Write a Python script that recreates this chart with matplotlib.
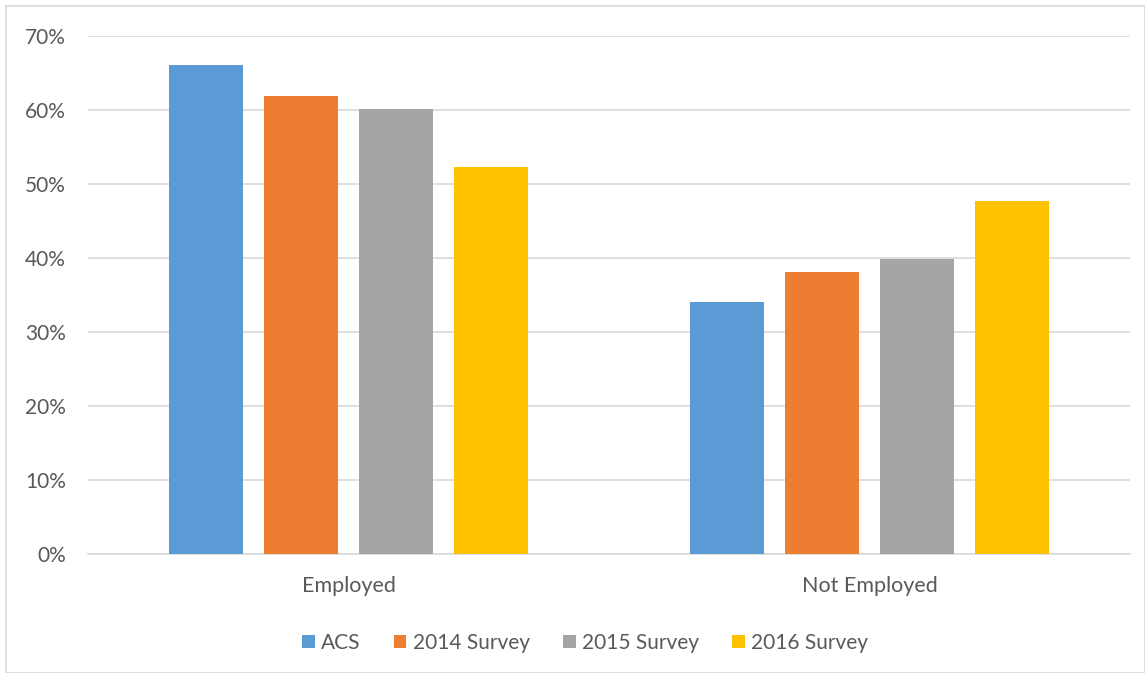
import numpy as np
import matplotlib
matplotlib.use('Agg')
import matplotlib.pyplot as plt
from matplotlib.ticker import PercentFormatter
from matplotlib.patches import Rectangle

plt.rcParams['font.family'] = ['Lato', 'DejaVu Sans']

categories = ['Employed', 'Not Employed']
series = ['ACS', '2014 Survey', '2015 Survey', '2016 Survey']
acs = [66.0, 34.0]
s2014 = [61.9, 38.1]
s2015 = [60.1, 39.9]
s2016 = [52.3, 47.7]
colors = ['#5B9BD5', '#ED7D31', '#A5A5A5', '#FFC000']

fig = plt.figure(figsize=(11.45, 6.73), dpi=100)
ax = fig.add_axes([0.0769, 0.177, 0.910, 0.7697])

x = np.arange(len(categories))
width = 0.142
step = 0.182
for i, (name, vals) in enumerate(zip(series, [acs, s2014, s2015, s2016])):
    ax.bar(x + (i - 1.5) * step, vals, width, color=colors[i], label=name, zorder=3)

ax.set_xlim(-0.5, 1.5)
ax.set_ylim(0, 70)
ax.set_yticks(range(0, 71, 10))
ax.yaxis.set_major_formatter(PercentFormatter(decimals=0))
ax.set_xticks(x)
ax.set_xticklabels(categories)
ax.grid(axis='y', color='#D9D9D9', linewidth=1.2, zorder=0)
for s in ax.spines.values():
    s.set_visible(False)
ax.spines['bottom'].set_visible(True)
ax.spines['bottom'].set_color('#D9D9D9')
ax.spines['bottom'].set_linewidth(1.2)
ax.tick_params(axis='both', length=0, colors='#595959')
ax.tick_params(axis='y', labelsize=15, pad=16)
ax.tick_params(axis='x', labelsize=15.5, pad=16)

fig.legend(loc='upper center', bbox_to_anchor=(0.511, 0.088 + 0.0), ncol=4, frameon=False,
           fontsize=15, labelcolor='#595959', handlelength=0.6, handleheight=0.6,
           handletextpad=0.3, columnspacing=1.6,
           handles=ax.get_legend_handles_labels()[0], labels=series)

fig.patches.append(Rectangle((6 / 1145, 0), 1 - 6 / 1145, 1 - 6 / 673,
                             transform=fig.transFigure, fill=False,
                             edgecolor='#D9D9D9', linewidth=1.2))

fig.savefig('out.png', dpi=100)
